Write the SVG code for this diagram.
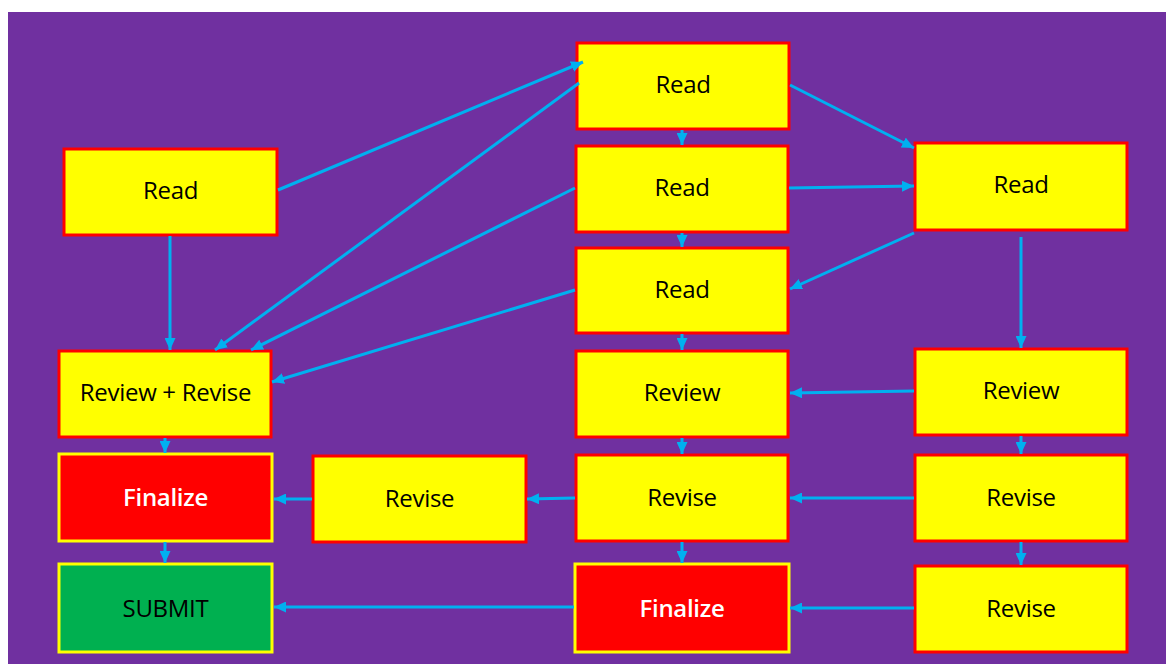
<svg xmlns="http://www.w3.org/2000/svg" width="1166" height="664" viewBox="0 0 1166 664">
<defs>
<marker id="ah" markerUnits="userSpaceOnUse" markerWidth="13" markerHeight="11" refX="12" refY="5.5" orient="auto">
<path d="M0,0 L12,5.5 L0,11 Z" fill="#00B0F0"/>
</marker>
<style>
.yb{fill:#FFFF00;stroke:#FF0000;stroke-width:3}
.rb{fill:#FF0000;stroke:#FFFF00;stroke-width:3}
.gb{fill:#00B050;stroke:#FFFF00;stroke-width:3}
.t{font-family:"Open Sans","Liberation Sans",sans-serif;font-size:24px;text-anchor:middle;fill:#000;letter-spacing:-0.3px}
.w{fill:#fff;font-weight:600}
.c line{stroke:#00B0F0;stroke-width:3;marker-end:url(#ah)}
</style>
</defs>
<rect x="0" y="0" width="1166" height="664" fill="#fff"/>
<rect x="8" y="12" width="1158" height="652" fill="#7030A0"/>

<g id="read-left"><rect class="yb" x="64" y="149" width="213" height="86"/><text class="t" x="170.5" y="199">Read</text></g>
<g id="read-top"><rect class="yb" x="577" y="43" width="212" height="86"/><text class="t" x="683" y="93">Read</text></g>
<g id="read-2"><rect class="yb" x="576" y="146" width="212" height="86"/><text class="t" x="682" y="196">Read</text></g>
<g id="read-3"><rect class="yb" x="576" y="248" width="212" height="85"/><text class="t" x="682" y="298">Read</text></g>
<g id="read-right"><rect class="yb" x="915" y="143" width="212" height="87"/><text class="t" x="1021" y="193">Read</text></g>
<g id="review-revise"><rect class="yb" x="59" y="351" width="212" height="86"/><text class="t" x="165.5" y="401">Review + Revise</text></g>
<g id="review-center"><rect class="yb" x="576" y="351" width="212" height="86"/><text class="t" x="682" y="401">Review</text></g>
<g id="review-right"><rect class="yb" x="915" y="349" width="212" height="86"/><text class="t" x="1021" y="399">Review</text></g>
<g id="finalize-left"><rect class="rb" x="59" y="454" width="213" height="87"/><text class="t w" x="165.5" y="506">Finalize</text></g>
<g id="revise-mid"><rect class="yb" x="313" y="456" width="213" height="86"/><text class="t" x="419.5" y="507">Revise</text></g>
<g id="revise-center"><rect class="yb" x="576" y="455" width="212" height="86"/><text class="t" x="682" y="506">Revise</text></g>
<g id="revise-right"><rect class="yb" x="915" y="455" width="212" height="86"/><text class="t" x="1021" y="506">Revise</text></g>
<g id="submit"><rect class="gb" x="59" y="564" width="213" height="88"/><text class="t" x="165.5" y="617">SUBMIT</text></g>
<g id="finalize-center"><rect class="rb" x="575" y="564" width="214" height="88"/><text class="t w" x="682" y="617">Finalize</text></g>
<g id="revise-right-bottom"><rect class="yb" x="915" y="566" width="212" height="86"/><text class="t" x="1021" y="617">Revise</text></g>

<g id="connectors" class="c">
<line x1="278" y1="190" x2="583" y2="62"/>
<line x1="579" y1="83" x2="215" y2="350"/>
<line x1="575" y1="188" x2="251" y2="350"/>
<line x1="575" y1="290" x2="272" y2="382"/>
<line x1="170" y1="236" x2="170" y2="350"/>
<line x1="790" y1="85" x2="914" y2="148"/>
<line x1="789" y1="188" x2="914" y2="186"/>
<line x1="914" y1="233" x2="790" y2="289"/>
<line x1="1021" y1="237" x2="1021" y2="348"/>
<line x1="682" y1="130" x2="682" y2="145"/>
<line x1="682" y1="233" x2="682" y2="247"/>
<line x1="682" y1="334" x2="682" y2="350"/>
<line x1="682" y1="438" x2="682" y2="454"/>
<line x1="682" y1="542" x2="682" y2="563"/>
<line x1="1021" y1="436" x2="1021" y2="454"/>
<line x1="1021" y1="542" x2="1021" y2="565"/>
<line x1="914" y1="391" x2="790" y2="393"/>
<line x1="914" y1="498" x2="790" y2="498"/>
<line x1="914" y1="608" x2="790" y2="608"/>
<line x1="575" y1="498" x2="527" y2="499"/>
<line x1="312" y1="499" x2="274" y2="499"/>
<line x1="574" y1="607" x2="274" y2="607"/>
<line x1="165" y1="438" x2="165" y2="453"/>
<line x1="165" y1="542" x2="165" y2="563"/>
</g>
</svg>
